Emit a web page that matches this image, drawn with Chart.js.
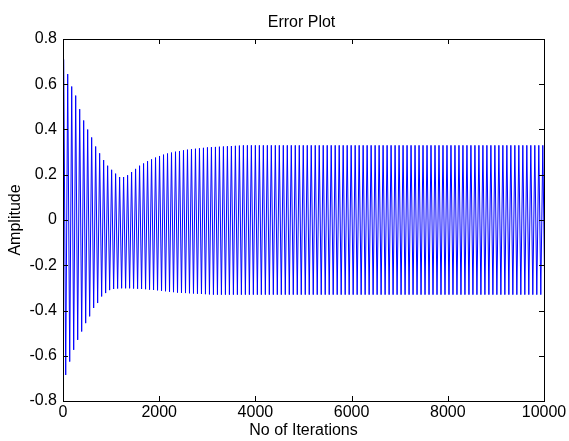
<!DOCTYPE html>
<html>
<head>
<meta charset="utf-8">
<script src="https://cdn.jsdelivr.net/npm/chart.js@4.4.0/dist/chart.umd.min.js"></script>
<style>
  html, body { margin: 0; padding: 0; background: #fff; }
</style>
</head>
<body>
<canvas id="graficoError" width="569" height="441"></canvas>
<script>
// tick labels
const xTicks = [0, 2000, 4000, 6000, 8000, 10000];
const yTicks = [-0.8, -0.6, -0.4, -0.2, 0, 0.2, 0.4, 0.6, 0.8];

// one oscillation every ~83 iterations, first crest at iteration ~15
const firstPeak = 15;
const cycleLength = 83;

// crest of each cycle
const upperPeaks = [
  0.71, 0.645, 0.59, 0.55, 0.49, 0.44, 0.40, 0.365, 0.325, 0.295,
  0.265, 0.24, 0.222, 0.205, 0.19, 0.19, 0.198, 0.212, 0.226, 0.24,
  0.25, 0.26, 0.268, 0.276, 0.283, 0.289, 0.294, 0.298, 0.302, 0.305,
  0.308, 0.311, 0.313, 0.315, 0.317, 0.319, 0.321, 0.322, 0.323, 0.324,
  0.325, 0.326, 0.327, 0.328, 0.329, 0.33, 0.33, 0.33, 0.33, 0.33,
  0.33, 0.33, 0.33, 0.33, 0.33, 0.33, 0.33, 0.33, 0.33, 0.33,
  0.33, 0.33, 0.33, 0.33, 0.33, 0.33, 0.33, 0.33, 0.33, 0.33,
  0.33, 0.33, 0.33, 0.33, 0.33, 0.33, 0.33, 0.33, 0.33, 0.33,
  0.33, 0.33, 0.33, 0.33, 0.33, 0.33, 0.33, 0.33, 0.33, 0.33,
  0.33, 0.33, 0.33, 0.33, 0.33, 0.33, 0.33, 0.33, 0.33, 0.33,
  0.33, 0.33, 0.33, 0.33, 0.33, 0.33, 0.33, 0.33, 0.33, 0.33,
  0.33, 0.33, 0.33, 0.33, 0.33, 0.33, 0.33, 0.33, 0.33, 0.33,
  0.33
];

// trough of each cycle
const lowerPeaks = [
  -0.685, -0.626, -0.574, -0.53, -0.493, -0.456, -0.426, -0.389, -0.367, -0.338,
  -0.323, -0.31, -0.305, -0.303, -0.302, -0.302, -0.302, -0.303, -0.304, -0.305,
  -0.306, -0.308, -0.309, -0.311, -0.313, -0.315, -0.317, -0.319, -0.321, -0.322,
  -0.323, -0.324, -0.325, -0.326, -0.327, -0.328, -0.329, -0.33, -0.33, -0.33,
  -0.33, -0.33, -0.33, -0.33, -0.33, -0.33, -0.33, -0.33, -0.33, -0.33,
  -0.33, -0.33, -0.33, -0.33, -0.33, -0.33, -0.33, -0.33, -0.33, -0.33,
  -0.33, -0.33, -0.33, -0.33, -0.33, -0.33, -0.33, -0.33, -0.33, -0.33,
  -0.33, -0.33, -0.33, -0.33, -0.33, -0.33, -0.33, -0.33, -0.33, -0.33,
  -0.33, -0.33, -0.33, -0.33, -0.33, -0.33, -0.33, -0.33, -0.33, -0.33,
  -0.33, -0.33, -0.33, -0.33, -0.33, -0.33, -0.33, -0.33, -0.33, -0.33,
  -0.33, -0.33, -0.33, -0.33, -0.33, -0.33, -0.33, -0.33, -0.33, -0.33,
  -0.33, -0.33, -0.33, -0.33, -0.33, -0.33, -0.33, -0.33, -0.33, -0.33,
  -0.33
];

const puntos = [];
upperPeaks.forEach(function (v, k) {
  puntos.push({ x: firstPeak + k * cycleLength, y: v });
  puntos.push({ x: firstPeak + k * cycleLength + cycleLength / 2, y: lowerPeaks[k] });
});

const fuente = '"Liberation Sans", Arial, sans-serif';

// MATLAB style box, inward ticks on all four sides, and the title
const cajaMatlab = {
  id: 'cajaMatlab',
  afterDatasetsDraw(chart) {
    const ctx = chart.ctx;
    const a = chart.chartArea;
    const x = chart.scales.x;
    const y = chart.scales.y;
    ctx.save();
    ctx.strokeStyle = '#000';
    ctx.lineWidth = 1;
    ctx.beginPath();
    xTicks.forEach(function (v) {
      const px = Math.round(x.getPixelForValue(v)) + 0.5;
      ctx.moveTo(px, a.bottom); ctx.lineTo(px, a.bottom - 5);
      ctx.moveTo(px, a.top); ctx.lineTo(px, a.top + 5);
    });
    yTicks.forEach(function (v) {
      const py = Math.round(y.getPixelForValue(v)) + 0.5;
      ctx.moveTo(a.left, py); ctx.lineTo(a.left + 5, py);
      ctx.moveTo(a.right, py); ctx.lineTo(a.right - 5, py);
    });
    ctx.stroke();
    ctx.strokeRect(Math.round(a.left) + 0.5, Math.round(a.top) + 0.5,
      Math.round(a.right - a.left), Math.round(a.bottom - a.top));

    ctx.fillStyle = '#000';
    ctx.font = '16px ' + fuente;
    ctx.textAlign = 'center';
    ctx.textBaseline = 'middle';
    ctx.fillText('Error Plot', (a.left + a.right) / 2 - 2, 23);
    ctx.restore();
  }
};

const ctx = document.getElementById('graficoError');
new Chart(ctx, {
  type: 'line',
  data: {
    datasets: [{
      label: 'Error',
      data: puntos,
      borderColor: '#0000ff',
      borderWidth: 1,
      pointRadius: 0,
      tension: 0,
      fill: false
    }]
  },
  options: {
    responsive: false,
    animation: false,
    layout: { padding: { top: 39, right: 25, left: 0, bottom: 0 } },
    plugins: {
      legend: { display: false },
      tooltip: { enabled: false }
    },
    scales: {
      x: {
        type: 'linear',
        min: 0,
        max: 10000,
        afterBuildTicks: function (scale) { scale.ticks = xTicks.map(function (v) { return { value: v }; }); },
        afterFit: function (scale) { scale.height = 40; },
        grid: { display: false, drawTicks: false },
        border: { display: false },
        ticks: { color: '#000', font: { size: 16, family: fuente }, padding: 2, maxRotation: 0,
          callback: function (v) { return String(v); } },
        title: { display: true, text: 'No of Iterations', color: '#000', font: { size: 16, family: fuente }, padding: { top: 0, bottom: 1 } }
      },
      y: {
        type: 'linear',
        min: -0.8,
        max: 0.8,
        afterBuildTicks: function (scale) { scale.ticks = yTicks.map(function (v) { return { value: v }; }); },
        afterFit: function (scale) { scale.width = 63; },
        grid: { display: false, drawTicks: false },
        border: { display: false },
        ticks: { color: '#000', font: { size: 16, family: fuente }, padding: 6,
          callback: function (v) { return String(Math.round(v * 10) / 10); } },
        title: { display: true, text: 'Amplitude', color: '#000', font: { size: 16, family: fuente }, padding: { top: 6, bottom: 0 } }
      }
    }
  },
  plugins: [cajaMatlab]
});
</script>
</body>
</html>
